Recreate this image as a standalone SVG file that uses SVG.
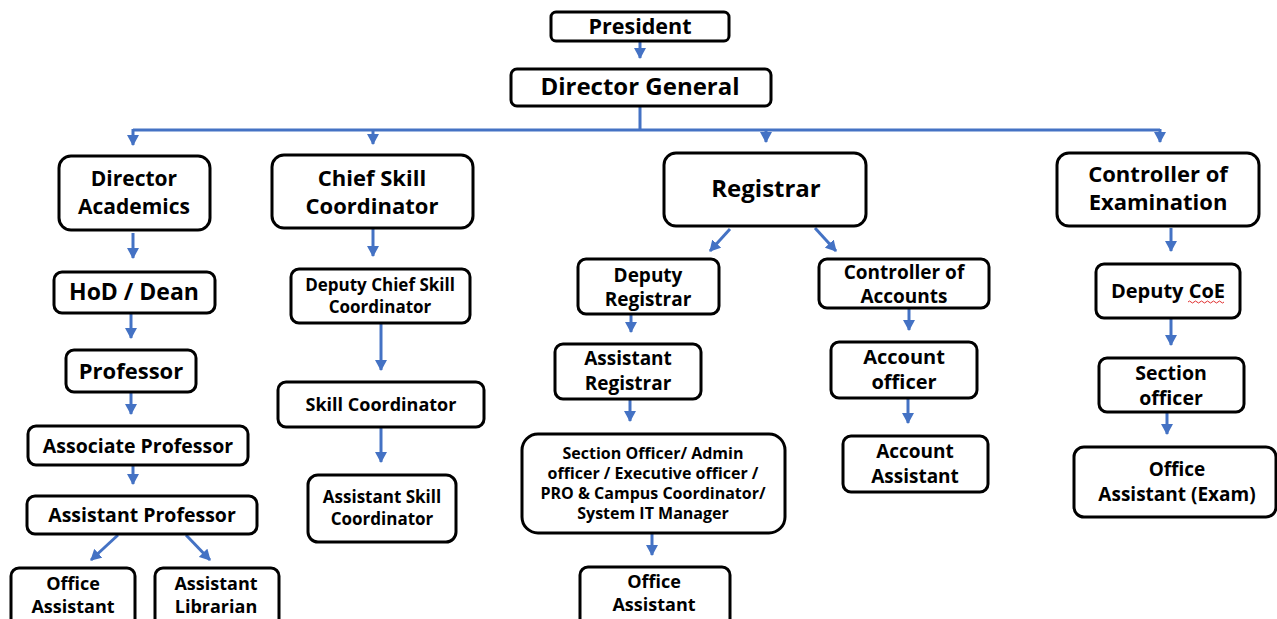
<svg xmlns="http://www.w3.org/2000/svg" width="1277" height="619" viewBox="0 0 1277 619">
<style>
.b{fill:#fff;stroke:#000;stroke-width:3}
.t{font-family:"Open Sans","Liberation Sans",sans-serif;font-weight:bold;fill:#000;text-anchor:middle}
.c{fill:none;stroke:#4472C4;stroke-width:3}
</style>
<defs>
<marker id="a" markerUnits="userSpaceOnUse" markerWidth="12" markerHeight="12" refX="10" refY="6" orient="auto">
<path d="M0,0 L11,6 L0,12 z" fill="#4472C4"/>
</marker>
</defs>
<rect width="1277" height="619" fill="#fff"/>
<g id="connectors">
<path class="c" d="M640,41 V58" marker-end="url(#a)"/>
<path class="c" d="M640,106 V130 M133,130 H1160"/>
<path class="c" d="M133,129 V145" marker-end="url(#a)"/>
<path class="c" d="M373,129 V144" marker-end="url(#a)"/>
<path class="c" d="M766,129 V142" marker-end="url(#a)"/>
<path class="c" d="M1160,129 V142" marker-end="url(#a)"/>
<path class="c" d="M133,233 V258" marker-end="url(#a)"/>
<path class="c" d="M131,313 V338" marker-end="url(#a)"/>
<path class="c" d="M131,392 V414" marker-end="url(#a)"/>
<path class="c" d="M133,465 V484" marker-end="url(#a)"/>
<path class="c" d="M118,535 L91,560" marker-end="url(#a)"/>
<path class="c" d="M186,535 L210,560" marker-end="url(#a)"/>
<path class="c" d="M373,229 V256" marker-end="url(#a)"/>
<path class="c" d="M381,323 V370" marker-end="url(#a)"/>
<path class="c" d="M381,427 V462" marker-end="url(#a)"/>
<path class="c" d="M730,229 L710,251" marker-end="url(#a)"/>
<path class="c" d="M815,228 L836,251" marker-end="url(#a)"/>
<path class="c" d="M631,314 V332" marker-end="url(#a)"/>
<path class="c" d="M630,399 V421" marker-end="url(#a)"/>
<path class="c" d="M652,533 V555" marker-end="url(#a)"/>
<path class="c" d="M909,308 V330" marker-end="url(#a)"/>
<path class="c" d="M908,398 V423" marker-end="url(#a)"/>
<path class="c" d="M1171,228 V251" marker-end="url(#a)"/>
<path class="c" d="M1171,318 V345" marker-end="url(#a)"/>
<path class="c" d="M1167,412 V434" marker-end="url(#a)"/>
</g>
<g id="president"><rect class="b" x="551" y="12" width="178" height="29" rx="5"/><text class="t" x="640" y="34" font-size="21.5">President</text></g>
<g id="director-general"><rect class="b" x="511" y="69" width="260" height="37" rx="6"/><text class="t" x="640" y="95" font-size="24">Director General</text></g>
<g id="director-academics"><rect class="b" x="59" y="156" width="151" height="74" rx="12"/><text class="t" x="134" y="186" font-size="21">Director</text><text class="t" x="134" y="214" font-size="21">Academics</text></g>
<g id="chief-skill"><rect class="b" x="272" y="155" width="201" height="73" rx="12"/><text class="t" x="372" y="186" font-size="22">Chief Skill</text><text class="t" x="372" y="214" font-size="22">Coordinator</text></g>
<g id="registrar"><rect class="b" x="664" y="153" width="202" height="73" rx="12"/><text class="t" x="766" y="197" font-size="24">Registrar</text></g>
<g id="controller-exam"><rect class="b" x="1057" y="153" width="202" height="73" rx="12"/><text class="t" x="1158" y="182" font-size="22">Controller of</text><text class="t" x="1158" y="210" font-size="22">Examination</text></g>
<g id="hod-dean"><rect class="b" x="54" y="272" width="161" height="41" rx="8"/><text class="t" x="134" y="300" font-size="23">HoD / Dean</text></g>
<g id="professor"><rect class="b" x="66" y="350" width="130" height="42" rx="8"/><text class="t" x="131" y="379" font-size="22">Professor</text></g>
<g id="associate-professor"><rect class="b" x="28" y="426" width="220" height="39" rx="8"/><text class="t" x="138" y="453" font-size="19.5">Associate Professor</text></g>
<g id="assistant-professor"><rect class="b" x="27" y="496" width="230" height="38" rx="8"/><text class="t" x="142" y="522" font-size="19.5">Assistant Professor</text></g>
<g id="office-assistant-1"><rect class="b" x="11" y="568" width="124" height="60" rx="8"/><text class="t" x="73" y="590" font-size="18">Office</text><text class="t" x="73" y="613" font-size="18">Assistant</text></g>
<g id="assistant-librarian"><rect class="b" x="155" y="568" width="124" height="60" rx="8"/><text class="t" x="216" y="590" font-size="18">Assistant</text><text class="t" x="216" y="613" font-size="18">Librarian</text></g>
<g id="deputy-chief-skill"><rect class="b" x="291" y="269" width="179" height="54" rx="8"/><text class="t" x="380" y="291" font-size="17">Deputy Chief Skill</text><text class="t" x="380" y="313" font-size="17">Coordinator</text></g>
<g id="skill-coordinator"><rect class="b" x="278" y="382" width="206" height="45" rx="8"/><text class="t" x="381" y="411" font-size="18">Skill Coordinator</text></g>
<g id="assistant-skill"><rect class="b" x="308" y="475" width="148" height="67" rx="10"/><text class="t" x="382" y="503" font-size="17">Assistant Skill</text><text class="t" x="382" y="525" font-size="17">Coordinator</text></g>
<g id="deputy-registrar"><rect class="b" x="578" y="259" width="141" height="55" rx="8"/><text class="t" x="648" y="282" font-size="19">Deputy</text><text class="t" x="648" y="306" font-size="19">Registrar</text></g>
<g id="controller-accounts"><rect class="b" x="819" y="259" width="170" height="49" rx="8"/><text class="t" x="904" y="279" font-size="19">Controller of</text><text class="t" x="904" y="303" font-size="19">Accounts</text></g>
<g id="assistant-registrar"><rect class="b" x="555" y="344" width="146" height="55" rx="8"/><text class="t" x="628" y="365" font-size="19">Assistant</text><text class="t" x="628" y="390" font-size="19">Registrar</text></g>
<g id="section-officer-admin"><rect class="b" x="522" y="434" width="263" height="99" rx="16"/><text class="t" x="653" y="459" font-size="16">Section Officer/ Admin</text><text class="t" x="653" y="479" font-size="16">officer / Executive officer /</text><text class="t" x="653" y="499" font-size="16">PRO &amp; Campus Coordinator/</text><text class="t" x="653" y="519" font-size="16">System IT Manager</text></g>
<g id="office-assistant-2"><rect class="b" x="580" y="567" width="150" height="60" rx="8"/><text class="t" x="654" y="588" font-size="18">Office</text><text class="t" x="654" y="611" font-size="18">Assistant</text></g>
<g id="account-officer"><rect class="b" x="831" y="342" width="146" height="56" rx="8"/><text class="t" x="904" y="364" font-size="20">Account</text><text class="t" x="904" y="389" font-size="20">officer</text></g>
<g id="account-assistant"><rect class="b" x="843" y="436" width="145" height="56" rx="8"/><text class="t" x="915" y="458" font-size="19">Account</text><text class="t" x="915" y="483" font-size="19">Assistant</text></g>
<g id="deputy-coe"><rect class="b" x="1096" y="264" width="144" height="54" rx="8"/><text class="t" x="1168" y="298" font-size="20">Deputy CoE</text><path d="M1188,302 q1.5,-2 3,0 t3,0 t3,0 t3,0 t3,0 t3,0 t3,0 t3,0 t3,0 t3,0 t3,0 t3,0" fill="none" stroke="#e03030" stroke-width="1"/></g>
<g id="section-officer-exam"><rect class="b" x="1099" y="358" width="145" height="54" rx="8"/><text class="t" x="1171" y="380" font-size="19.5">Section</text><text class="t" x="1171" y="405" font-size="19.5">officer</text></g>
<g id="office-assistant-exam"><rect class="b" x="1074" y="447" width="202" height="70" rx="10"/><text class="t" x="1177" y="476" font-size="19">Office</text><text class="t" x="1177" y="501" font-size="19">Assistant (Exam)</text></g>
</svg>
